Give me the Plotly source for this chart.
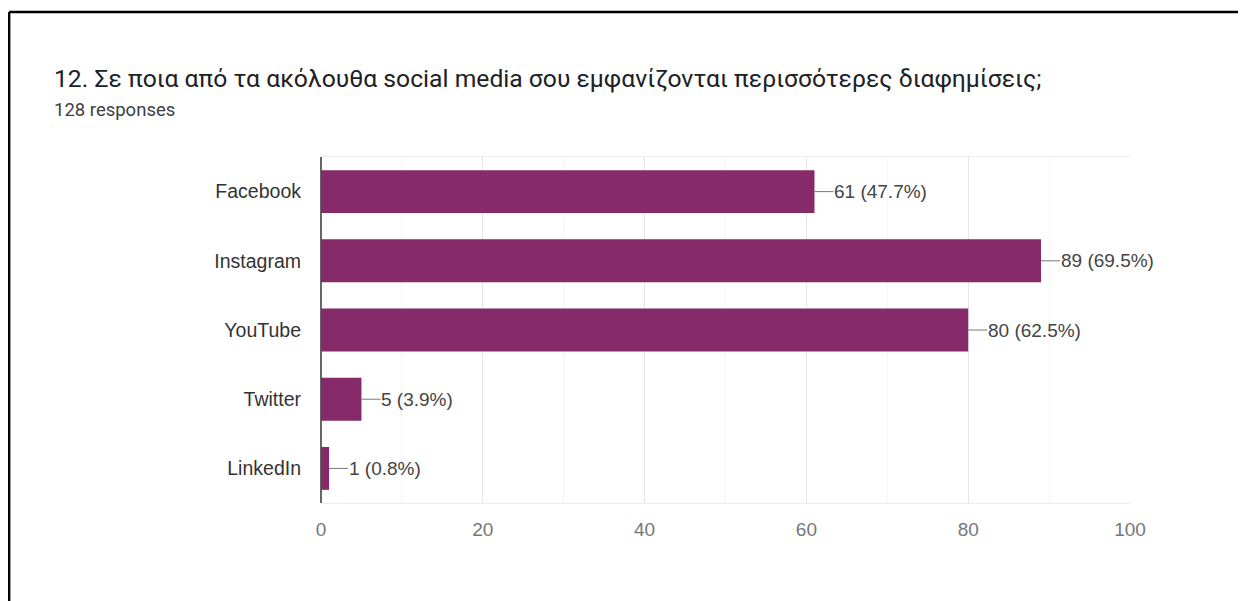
import plotly.graph_objects as go

categories = ["Facebook", "Instagram", "YouTube", "Twitter", "LinkedIn"]
counts = [61, 89, 80, 5, 1]
total_responses = 128
x_ticks = [0, 20, 40, 60, 80, 100]

title_text = "12. Σε ποια από τα ακόλουθα social media σου εμφανίζονται περισσότερες διαφημίσεις;"
subtitle_text = f"{total_responses} responses"

labels = [f"{c} ({c / total_responses * 100:.1f}%)" for c in counts]

BAR_COLOR = "#872a69"
LABEL_FONT = "Liberation Sans, Arial, sans-serif"

fig = go.Figure()
fig.add_trace(go.Bar(
    y=categories,
    x=counts,
    orientation="h",
    marker=dict(color=BAR_COLOR, line=dict(width=0)),
    width=0.62,
    hoverinfo="skip",
))

for cat, c, lab in zip(categories, counts, labels):
    fig.add_annotation(
        x=c, y=cat, xref="x", yref="y",
        text=lab, showarrow=True, arrowhead=0, arrowwidth=1,
        arrowcolor="#777777", ax=19, ay=0, xanchor="left",
        standoff=0, startstandoff=0, borderpad=0,
        font=dict(family=LABEL_FONT, size=19, color="#444444"),
    )

# title and subtitle
fig.add_annotation(
    x=-0.3325, y=1.228, xref="paper", yref="paper", xanchor="left", yanchor="middle",
    text=title_text, showarrow=False,
    font=dict(family="Roboto, sans-serif", size=24.7, color="#202124"),
)
fig.add_annotation(
    x=-0.3325, y=1.136, xref="paper", yref="paper", xanchor="left", yanchor="middle",
    text=subtitle_text, showarrow=False,
    font=dict(family="Roboto, sans-serif", size=18.5, color="#3c4043"),
)

# frame lines (top and left, as in the screenshot crop)
fig.add_shape(type="line", xref="paper", yref="paper", x0=-0.3855, x1=1.2, y0=1.419, y1=1.419,
              line=dict(color="#000000", width=2.5))
fig.add_shape(type="line", xref="paper", yref="paper", x0=-0.3855, x1=-0.3855, y0=1.419, y1=-0.3,
              line=dict(color="#000000", width=2.5))

fig.update_layout(
    width=1238, height=593,
    margin=dict(l=313, r=116, t=149, b=98),
    paper_bgcolor="white", plot_bgcolor="white",
    showlegend=False,
    xaxis=dict(
        range=[0, 100], tickvals=x_ticks, ticktext=[str(t) for t in x_ticks],
        showgrid=True, gridcolor="#e6e6e6", gridwidth=1,
        minor=dict(dtick=10, showgrid=True, gridcolor="#f5f5f5", gridwidth=1),
        zeroline=True, zerolinecolor="#666666", zerolinewidth=1.5,
        showline=True, linecolor="#ececec", linewidth=1, mirror=True,
        tickfont=dict(family=LABEL_FONT, size=19, color="#777777"),
        ticklabelstandoff=9, fixedrange=True,
    ),
    yaxis=dict(
        categoryorder="array", categoryarray=categories[::-1],
        showgrid=False, zeroline=False, showline=False,
        tickfont=dict(family=LABEL_FONT, size=19.5, color="#333333"),
        ticklabelstandoff=19, fixedrange=True,
    ),
)

fig.write_html("out.html")
